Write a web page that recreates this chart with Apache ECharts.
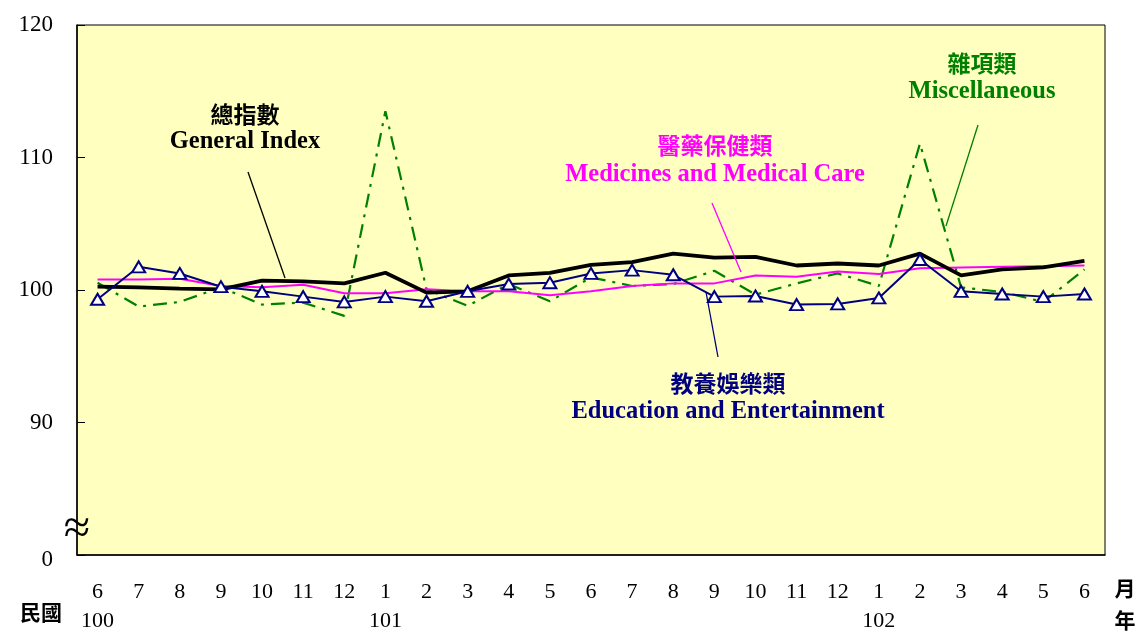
<!DOCTYPE html>
<html><head><meta charset="utf-8">
<script src="https://cdn.jsdelivr.net/npm/echarts@6/dist/echarts.min.js"></script>
<style>html,body{margin:0;padding:0;background:#fff}#c{width:1138px;height:633px}</style>
</head><body><div id="c"></div>
<script>
const months = ['6','7','8','9','10','11','12','1','2','3','4','5','6','7','8','9','10','11','12','1','2','3','4','5','6'];
const yearLabels = {0:'100', 7:'101', 19:'102'};
const generalIndex = [100.25,100.2,100.1,100.05,100.7,100.65,100.5,101.3,99.8,99.9,101.1,101.3,101.9,102.1,102.75,102.45,102.5,101.85,102.0,101.85,102.75,101.1,101.55,101.7,102.2];
const medicines = [100.8,100.8,100.85,100.3,100.2,100.4,99.75,99.75,100.05,99.9,99.9,99.6,99.9,100.3,100.5,100.5,101.1,101.0,101.4,101.2,101.65,101.7,101.75,101.8,101.85];
const education = [99.3,101.75,101.25,100.25,99.9,99.5,99.1,99.5,99.15,99.9,100.45,100.55,101.25,101.5,101.15,99.5,99.55,98.9,98.95,99.4,102.3,99.9,99.7,99.5,99.7];
const misc = [100.55,98.75,99.1,100.2,98.9,99.05,98.05,113.5,100.05,98.8,100.45,99.15,100.95,100.3,100.45,101.45,99.65,100.5,101.25,100.3,111.05,100.2,99.85,99.1,101.55];
const yTicks = {80:'0',90:'90',100:'100',110:'110',120:'120'};

const serif = '"Liberation Serif","Times New Roman",serif';
const cjk = '"Noto Sans CJK TC","Noto Sans CJK SC",sans-serif';
const chart = echarts.init(document.getElementById('c'));
function txt(x,y,t,color,font,size,weight){
  return {type:'text',x:x,y:y,style:{text:t,fill:color,font:(weight||'bold')+' '+size+'px '+font,align:'center',verticalAlign:'middle'},z:10};
}
function ln(x1,y1,x2,y2,color){
  return {type:'line',shape:{x1:x1,y1:y1,x2:x2,y2:y2},style:{stroke:color,lineWidth:1.3},z:10};
}
chart.setOption({
  animation:false,
  grid:{left:77,top:25,width:1028,height:530,containLabel:false,outerBoundsMode:'none',show:true,backgroundColor:'#ffffc0',borderColor:'#000',borderWidth:1},
  xAxis:{type:'category',data:months,boundaryGap:true,
    axisLine:{lineStyle:{color:'#000',width:1.5}},
    axisTick:{inside:true,length:7,lineStyle:{color:'#000'}},
    axisLabel:{color:'#000',fontFamily:serif,fontSize:22,margin:23,lineHeight:29,interval:0,
      formatter:function(v,i){return yearLabels[i]?v+'\n'+yearLabels[i]:v;}},
    splitLine:{show:false}},
  yAxis:{type:'value',min:80,max:120,interval:10,
    axisLine:{show:true,lineStyle:{color:'#000',width:1.5}},
    axisTick:{show:true,inside:true,length:8,lineStyle:{color:'#000'}},
    axisLabel:{color:'#000',fontFamily:serif,fontSize:23,margin:24,
      formatter:function(v){return v===80?'{z|0}':(yTicks[v]!==undefined?yTicks[v]:'');},
      rich:{z:{fontFamily:serif,fontSize:23,color:'#000',padding:[10,0,0,0]}}},
    splitLine:{show:false}},
  series:[
    {name:'Miscellaneous',type:'line',data:misc,symbol:'none',lineStyle:{color:'#008000',width:2.2,type:[14,7,3,7]},z:2},
    {name:'Medicines',type:'line',data:medicines,symbol:'none',lineStyle:{color:'#ff00ff',width:2},z:3},
    {name:'General',type:'line',data:generalIndex,symbol:'none',lineStyle:{color:'#000',width:3.8},z:4},
    {name:'Education',type:'line',data:education,symbol:'triangle',symbolSize:[13,11],showAllSymbol:true,
      itemStyle:{color:'#fff',borderColor:'#000080',borderWidth:2},lineStyle:{color:'#000080',width:2},z:5}
  ],
  graphic:[
    txt(245,114,'總指數','#000',cjk,23),
    txt(245,142,'General Index','#000',serif,24.5),
    ln(248,172,285,278,'#000'),
    txt(715,145,'醫藥保健類','#ff00ff',cjk,23),
    txt(715,175,'Medicines and Medical Care','#ff00ff',serif,24.5),
    ln(712,203,741,272,'#ff00ff'),
    txt(982,63,'雜項類','#008000',cjk,23),
    txt(982,92,'Miscellaneous','#008000',serif,24.5),
    ln(978,125,946,226,'#008000'),
    txt(728,383,'教養娛樂類','#000080',cjk,23),
    txt(728,412,'Education and Entertainment','#000080',serif,24.5),
    ln(706,292,718,357,'#000080'),
    {type:'text',x:77,y:530,style:{text:'≈',fill:'#000',font:'48px '+serif,align:'center',verticalAlign:'middle'},z:10},
    txt(41,612,'民國','#000',cjk,21),
    txt(1125,588,'月','#000',cjk,21),
    txt(1125,620,'年','#000',cjk,21)
  ]
});
</script></body></html>
